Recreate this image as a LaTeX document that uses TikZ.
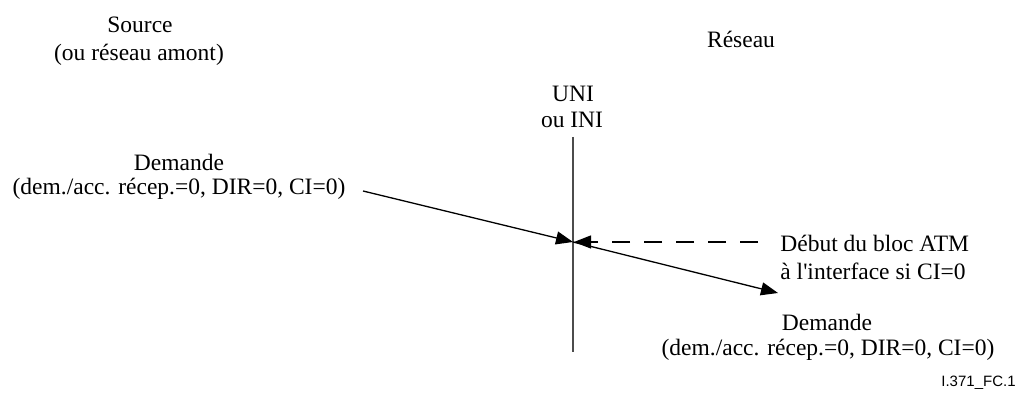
\documentclass[tikz,border=0pt]{standalone}
\usepackage{fontspec}
\setmainfont{Liberation Serif}
\newfontfamily\figfont{Liberation Sans}
\usetikzlibrary{arrows.meta}
\begin{document}
\begin{tikzpicture}[x=0.5pt,y=-0.5pt,
  txt/.style={inner sep=0pt,anchor=base,font=\fontsize{11.75pt}{12pt}\selectfont},
  arr/.style={line width=0.65pt,-{Triangle[length=8.5pt,width=6.5pt]}},
  dasharr/.style={arr,dash pattern=on 9pt off 7pt},
  iface/.style={line width=0.75pt,draw=black!70}]
\useasboundingbox (0,0) rectangle (1023,399);
\node[txt] (src1) at (140,33) {Source};
\node[txt] (src2) at (139,61) {(ou réseau amont)};
\node[txt] (res) at (741,48) {Réseau};
\node[txt] (uni1) at (573,102) {UNI};
\node[txt] (uni2) at (572,128) {ou INI};
\node[txt] (dl1) at (179,171) {Demande};
\node[txt] (dl2) at (179,195) {(dem./acc. récep.=0, DIR=0, CI=0)};
\node[txt,anchor=base west] (deb1) at (780,252) {Début du bloc ATM};
\node[txt,anchor=base west] (deb2) at (780,280) {à l\textquotesingle interface si CI=0};
\node[txt] (dr1) at (827,331) {Demande};
\node[txt] (dr2) at (828,356) {(dem./acc. récep.=0, DIR=0, CI=0)};
\node[inner sep=0pt,anchor=base east,font=\figfont\fontsize{7.5pt}{8pt}\selectfont] (fig) at (1016,387) {I.371\_FC.1};
\coordinate (top) at (573,137);
\coordinate (bot) at (573,352);
\coordinate (j) at (573,242);
\coordinate (a0) at (363,191);
\coordinate (d0) at (758,242);
\coordinate (djt) at (574,242);
\coordinate (b1) at (778,293);
\draw[iface] (top) -- (bot);
\draw[arr] (a0) -- (j);
\draw[dasharr] (d0) -- (djt);
\draw[arr] (j) -- (b1);
\end{tikzpicture}
\end{document}
